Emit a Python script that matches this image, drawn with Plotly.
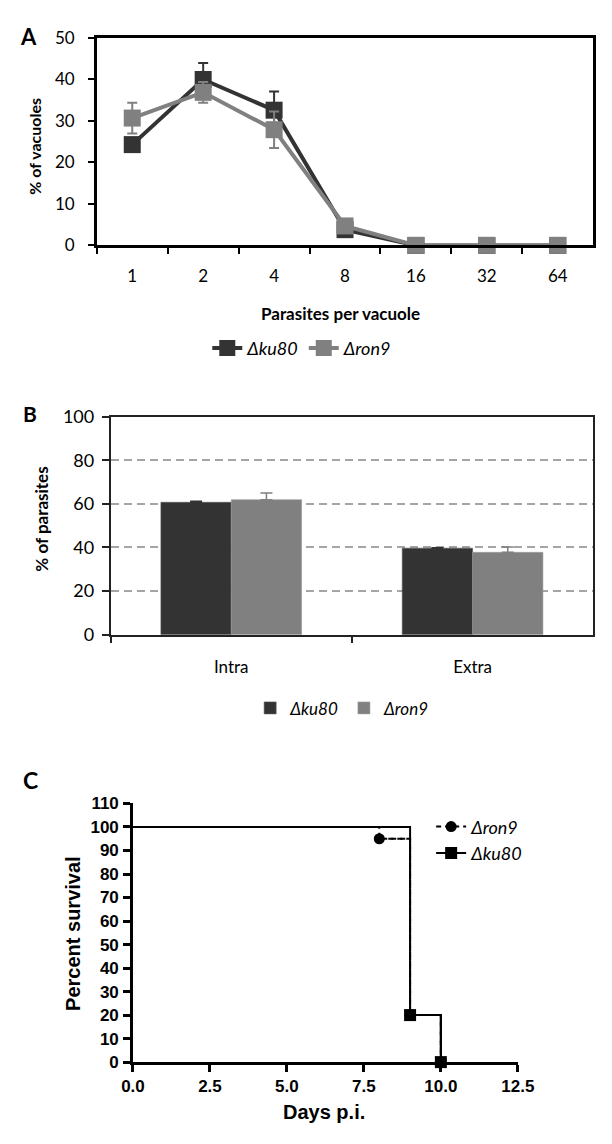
import plotly.graph_objects as go

W, H = 612, 1144

# ---------------- Data ----------------
# Panel A: parasites per vacuole
a_categories = ["1", "2", "4", "8", "16", "32", "64"]
a_ku80 = [24.3, 40.0, 32.6, 3.8, 0, 0, 0]
a_ku80_err = [0.5, 4.0, 4.5, 0.5, 0, 0, 0]
a_ron9 = [30.7, 36.9, 27.9, 4.7, 0, 0, 0]
a_ron9_err = [3.7, 2.5, 4.4, 0.5, 0, 0, 0]

# Panel B: intra / extra
b_categories = ["Intra", "Extra"]
b_ku80 = [60.7, 39.7]
b_ku80_err = [0.5, 0.2]
b_ron9 = [61.9, 37.8]
b_ron9_err = [3.1, 2.4]

# Panel C: survival (first point = start of curve, following = death events)
c_ron9_days = [0, 8, 9, 10]
c_ron9_surv = [100, 95, 20, 0]
c_ku80_days = [0, 9, 10]
c_ku80_surv = [100, 20, 0]

DARK = "#333333"
GRAY = "#808080"
LATO = "Lato"
ARIAL = "Liberation Sans"

def px_x(p):
    return p / W

def px_y(p):
    return 1 - p / H

fig = go.Figure()

# ---- Panel A traces ----
fig.add_trace(go.Scatter(
    x=a_categories, y=a_ku80, name="Δ<i>ku80</i>", mode="lines+markers",
    line=dict(color=DARK, width=4), marker=dict(symbol="square", size=17, color=DARK),
    error_y=dict(type="data", array=a_ku80_err, color=DARK, thickness=2, width=5),
    xaxis="x", yaxis="y", legend="legend", cliponaxis=False))
fig.add_trace(go.Scatter(
    x=a_categories, y=a_ron9, name="Δ<i>ron9</i>", mode="lines+markers",
    line=dict(color=GRAY, width=4), marker=dict(symbol="square", size=17, color=GRAY),
    error_y=dict(type="data", array=a_ron9_err, color=GRAY, thickness=2, width=5),
    xaxis="x", yaxis="y", legend="legend", cliponaxis=False))

# ---- Panel B traces ----
fig.add_trace(go.Bar(
    x=b_categories, y=b_ku80, name="Δ<i>ku80</i>",
    marker=dict(color=DARK, line=dict(color="#555555", width=0.6)),
    error_y=dict(type="data", array=b_ku80_err, arrayminus=[0, 0], symmetric=False,
                 color=DARK, thickness=1.5, width=6),
    xaxis="x2", yaxis="y2", legend="legend2"))
fig.add_trace(go.Bar(
    x=b_categories, y=b_ron9, name="Δ<i>ron9</i>",
    marker=dict(color=GRAY, line=dict(color="#9a9a9a", width=0.6)),
    error_y=dict(type="data", array=b_ron9_err, arrayminus=[0, 0], symmetric=False,
                 color=GRAY, thickness=1.5, width=6),
    xaxis="x2", yaxis="y2", legend="legend2"))

# ---- Panel C traces ----
RON9_DASH = "5px,4px"
fig.add_trace(go.Scatter(
    x=c_ron9_days, y=c_ron9_surv, mode="lines", showlegend=False,
    line=dict(color="black", width=2, dash=RON9_DASH, shape="hv"),
    xaxis="x3", yaxis="y3", cliponaxis=False, hoverinfo="skip"))
fig.add_trace(go.Scatter(
    x=c_ron9_days[1:], y=c_ron9_surv[1:], name="Δ<i>ron9</i>", mode="lines+markers",
    line=dict(color="black", width=2, dash=RON9_DASH, shape="hv"),
    marker=dict(symbol="circle", size=11, color="black"),
    xaxis="x3", yaxis="y3", legend="legend3", cliponaxis=False))
fig.add_trace(go.Scatter(
    x=c_ku80_days, y=c_ku80_surv, mode="lines", showlegend=False,
    line=dict(color="black", width=2, shape="hv"),
    xaxis="x3", yaxis="y3", cliponaxis=False, hoverinfo="skip"))
fig.add_trace(go.Scatter(
    x=c_ku80_days[1:], y=c_ku80_surv[1:], name="Δ<i>ku80</i>", mode="lines+markers",
    line=dict(color="black", width=2, shape="hv"),
    marker=dict(symbol="square", size=12, color="black"),
    xaxis="x3", yaxis="y3", legend="legend3", cliponaxis=False))

# ---------------- Layout ----------------
fig.update_layout(
    width=W, height=H, margin=dict(l=0, r=0, t=0, b=0),
    paper_bgcolor="white", plot_bgcolor="white",
    barmode="group", bargap=0.417, bargroupgap=0,
    font=dict(family=LATO, color="black"),
    # Panel A axes
    xaxis=dict(domain=[px_x(89), 0.997], type="category", range=[-0.5, 6.5],
               showline=True, linewidth=2.5, linecolor="black", mirror=True,
               ticks="outside", tickson="boundaries", ticklen=6, tickwidth=2,
               tickcolor="black", tickfont=dict(family=LATO, size=17),
               ticklabelstandoff=13, showgrid=False, anchor="y"),
    yaxis=dict(domain=[px_y(238), px_y(26.5)], range=[0, 50], dtick=10,
               showline=True, linewidth=2.5, linecolor="black", mirror=True,
               ticks="outside", ticklen=6, tickwidth=2, tickcolor="black",
               tickfont=dict(family=LATO, size=17), ticklabelstandoff=10,
               showgrid=False, zeroline=False, anchor="x"),
    # Panel B axes
    xaxis2=dict(domain=[px_x(103.5), 0.997], type="category", range=[-0.5, 1.5],
                showline=True, linewidth=1.5, linecolor="#222222", mirror=True,
                ticks="outside", tickson="boundaries", ticklen=6, tickwidth=1.5,
                tickcolor="#222222", tickfont=dict(family=LATO, size=17),
                ticklabelstandoff=16, showgrid=False, anchor="y2"),
    yaxis2=dict(domain=[px_y(635), px_y(412.5)], range=[0, 100], dtick=20,
                showline=True, linewidth=1.5, linecolor="#222222", mirror=True,
                ticks="outside", ticklen=7, tickwidth=1.5, tickcolor="#222222",
                tickfont=dict(family=LATO, size=18), ticklabelstandoff=4,
                showgrid=True, gridcolor="#a5a5a5", gridwidth=1.5, griddash="8px,5px",
                zeroline=False, anchor="x2"),
    # Panel C axes
    xaxis3=dict(domain=[px_x(127), px_x(531)], range=[0, 12.5], dtick=2.5, tick0=0,
                tickformat=".1f", showline=True, linewidth=2.5, linecolor="black",
                ticks="outside", ticklen=7, tickwidth=2.5, tickcolor="black",
                tickfont=dict(family=ARIAL, size=17, weight="bold"),
                showgrid=False, zeroline=False, anchor="y3"),
    yaxis3=dict(domain=[px_y(1070.7), px_y(807)], range=[0, 110], dtick=10,
                showline=True, linewidth=2.5, linecolor="black",
                ticks="outside", ticklen=7, tickwidth=2.5, tickcolor="black",
                tickfont=dict(family=ARIAL, size=17, weight="bold"),
                ticklabelstandoff=1,
                showgrid=False, zeroline=False, anchor="x3"),
    legend=dict(x=px_x(205), y=px_y(343), xanchor="left", yanchor="middle",
                orientation="h", font=dict(family=LATO, size=18, style="italic"),
                bgcolor="rgba(0,0,0,0)", traceorder="normal"),
    legend2=dict(x=px_x(250), y=px_y(710), xanchor="left", yanchor="middle",
                 orientation="h", font=dict(family=LATO, size=17, style="italic"),
                 bgcolor="rgba(0,0,0,0)", traceorder="normal"),
    legend3=dict(x=px_x(440), y=px_y(812), xanchor="left", yanchor="top",
                 orientation="v", font=dict(family=LATO, size=18, style="italic"),
                 bgcolor="rgba(0,0,0,0)", traceorder="normal", tracegroupgap=0),
    showlegend=True,
)

annotations = [
    dict(text="<b>A</b>", x=px_x(17), y=px_y(25), font=dict(family=LATO, size=22)),
    dict(text="<b>B</b>", x=px_x(19), y=px_y(409), font=dict(family=LATO, size=21)),
    dict(text="<b>C</b>", x=px_x(19), y=px_y(783), font=dict(family=LATO, size=23)),
    dict(text="<b>% of vacuoles</b>", x=px_x(23.5), y=px_y(137), textangle=-90,
         font=dict(family=LATO, size=16)),
    dict(text="<b>Parasites per vacuole</b>", x=px_x(345), y=px_y(307),
         font=dict(family=LATO, size=17)),
    dict(text="<b>% of parasites</b>", x=px_x(30), y=px_y(517), textangle=-90,
         font=dict(family=LATO, size=17)),
    dict(text="<b>Percent survival</b>", x=px_x(64), y=px_y(939), textangle=-90,
         font=dict(family=ARIAL, size=20)),
    dict(text="<b>Days p.i.</b>", x=px_x(328), y=px_y(1122),
         font=dict(family=ARIAL, size=20)),
]
for a in annotations:
    a.update(xref="paper", yref="paper", showarrow=False, xanchor="center", yanchor="middle")
fig.update_layout(annotations=annotations)

fig.write_html(
    "out.html",
    config={"displayModeBar": False},
    post_script="document.body.style.margin='0';document.body.style.padding='0';",
)
